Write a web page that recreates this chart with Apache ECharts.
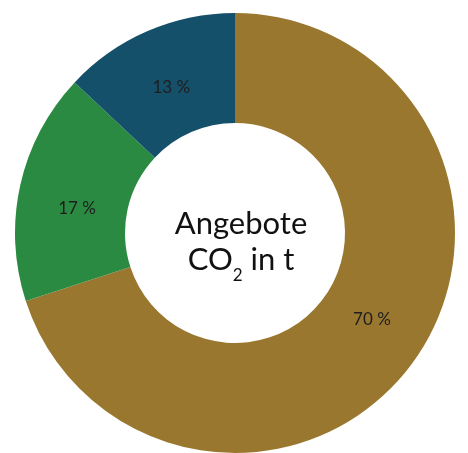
<!DOCTYPE html>
<html><head><meta charset="utf-8">
<script src="https://cdn.jsdelivr.net/npm/echarts@6/dist/echarts.min.js"></script>
<style>html,body{margin:0;padding:0;background:#fff}#c{width:468px;height:453px}</style>
</head><body><div id="c"></div>
<script>
const categories = ['A', 'B', 'C'];
const values = [70, 17, 13];
const colors = ['#9a772f', '#2a8a42', '#15506a'];
const labelOffsets = [[1, -12], [6, 12], [3, 9]];

const chart = echarts.init(document.getElementById('c'));
chart.setOption({
  animation: false,
  title: {
    text: '{a|Angebote}\n{a|CO}{s|2}{a| in t}',
    left: 236, top: 237, textAlign: 'center', textVerticalAlign: 'middle',
    textStyle: {
      rich: {
        a: { fontFamily: 'Lato', fontWeight: 'normal', fontSize: 31, lineHeight: 36, color: '#111' },
        s: { fontFamily: 'Lato', fontWeight: 'normal', fontSize: 17, lineHeight: 10, padding: [25, 0, 0, 0], verticalAlign: 'top', color: '#111' }
      }
    }
  },
  series: [{
    type: 'pie',
    center: [235, 233],
    radius: [110, 220],
    startAngle: 90,
    clockwise: true,
    silent: true,
    label: {
      show: true, position: 'inside',
      formatter: p => p.value + ' %',
      fontFamily: 'Lato', fontSize: 17, color: '#1e1e1e'
    },
    labelLine: { show: false },
    itemStyle: { borderWidth: 0 },
    data: categories.map((c, i) => ({ name: c, value: values[i], itemStyle: { color: colors[i] }, label: { offset: labelOffsets[i] } }))
  }]
});
</script></body></html>
